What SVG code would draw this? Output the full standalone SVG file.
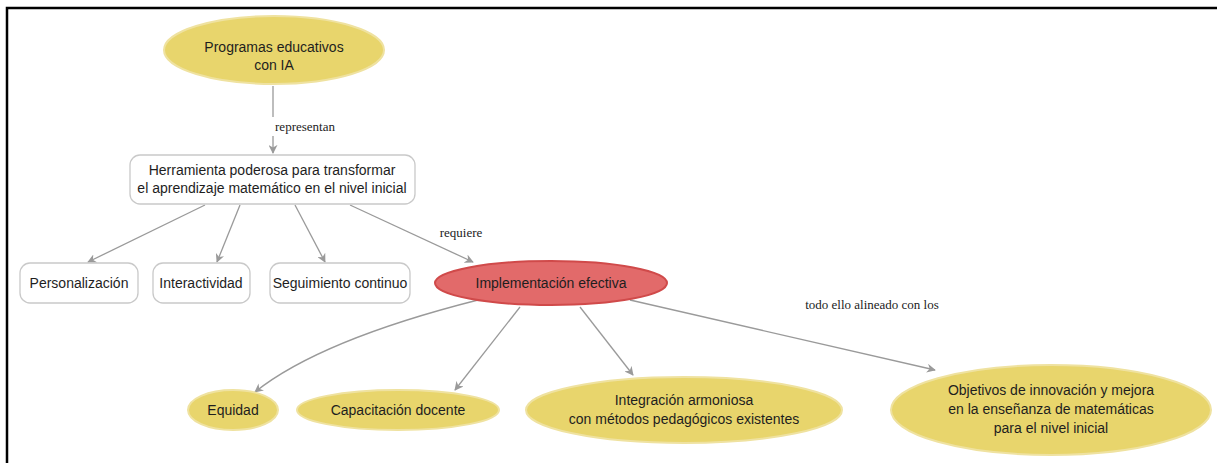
<svg xmlns="http://www.w3.org/2000/svg" width="1217" height="463" viewBox="0 0 1217 463">
<defs>
<style>
.t{font-family:"Liberation Sans",Arial,sans-serif;font-size:14px;fill:#1e1e1e;text-anchor:middle}
.l{font-family:"Liberation Serif","Times New Roman",serif;font-size:13px;fill:#222;text-anchor:middle}
.y{fill:#e8d56c;stroke:#efe2a0;stroke-width:2}
.r{fill:#e26a6a;stroke:#d04a4a;stroke-width:2}
.b{fill:#fff;stroke:#c9c9c9;stroke-width:1.3}
.c{fill:none;stroke:#9a9a9a;stroke-width:1.3}
</style>
<marker id="a" viewBox="0 0 10 10" refX="9" refY="5" markerWidth="9" markerHeight="9" orient="auto" markerUnits="userSpaceOnUse">
<path d="M0,0 L10,5 L0,10 L3,5 z" fill="#9a9a9a"/>
</marker>
</defs>
<rect x="0" y="0" width="1217" height="463" fill="#fff"/>
<path d="M7,463 V8 H1217" fill="none" stroke="#000" stroke-width="2.5"/>
<g id="connectors">
<path class="c" d="M273,86 V117"/>
<path class="c" d="M273,136 V153" marker-end="url(#a)"/>
<path class="c" d="M205,205 L88,262" marker-end="url(#a)"/>
<path class="c" d="M240,205 L217,262" marker-end="url(#a)"/>
<path class="c" d="M295,205 L325,262" marker-end="url(#a)"/>
<path class="c" d="M350,205 L473,262" marker-end="url(#a)"/>
<path class="c" d="M478,300 Q320,340 255,392" marker-end="url(#a)"/>
<path class="c" d="M520,307 L455,390" marker-end="url(#a)"/>
<path class="c" d="M580,307 L633,375" marker-end="url(#a)"/>
<path class="c" d="M630,300 L935,370" marker-end="url(#a)"/>
<text class="l" x="305" y="131">representan</text>
<text class="l" x="461" y="237">requiere</text>
<text class="l" x="872" y="309">todo ello alineado con los</text>
</g>
<g id="n1"><ellipse class="y" cx="274" cy="50" rx="110" ry="34"/><text class="t" x="274" y="52">Programas educativos</text><text class="t" x="274" y="70">con IA</text></g>
<g id="n2"><rect class="b" x="130" y="155" width="285" height="49" rx="10"/><text class="t" x="272" y="175">Herramienta poderosa para transformar</text><text class="t" x="272" y="193">el aprendizaje matemático en el nivel inicial</text></g>
<g id="n3"><rect class="b" x="20" y="263" width="118" height="40" rx="10"/><text class="t" x="79" y="288">Personalización</text></g>
<g id="n4"><rect class="b" x="153" y="263" width="97" height="40" rx="10"/><text class="t" x="201" y="288">Interactividad</text></g>
<g id="n5"><rect class="b" x="270" y="263" width="140" height="40" rx="10"/><text class="t" x="340" y="288">Seguimiento continuo</text></g>
<g id="n6"><ellipse class="r" cx="551" cy="283" rx="116" ry="22"/><text class="t" x="551" y="288">Implementación efectiva</text></g>
<g id="n7"><ellipse class="y" cx="233" cy="410" rx="45" ry="20"/><text class="t" x="233" y="415">Equidad</text></g>
<g id="n8"><ellipse class="y" cx="398" cy="410" rx="101" ry="20"/><text class="t" x="398" y="415">Capacitación docente</text></g>
<g id="n9"><ellipse class="y" cx="684" cy="410" rx="158" ry="33"/><text class="t" x="684" y="405">Integración armoniosa</text><text class="t" x="684" y="424">con métodos pedagógicos existentes</text></g>
<g id="n10"><ellipse class="y" cx="1051" cy="410" rx="160" ry="45"/><text class="t" x="1051" y="395">Objetivos de innovación y mejora</text><text class="t" x="1051" y="414">en la enseñanza de matemáticas</text><text class="t" x="1051" y="433">para el nivel inicial</text></g>
</svg>
